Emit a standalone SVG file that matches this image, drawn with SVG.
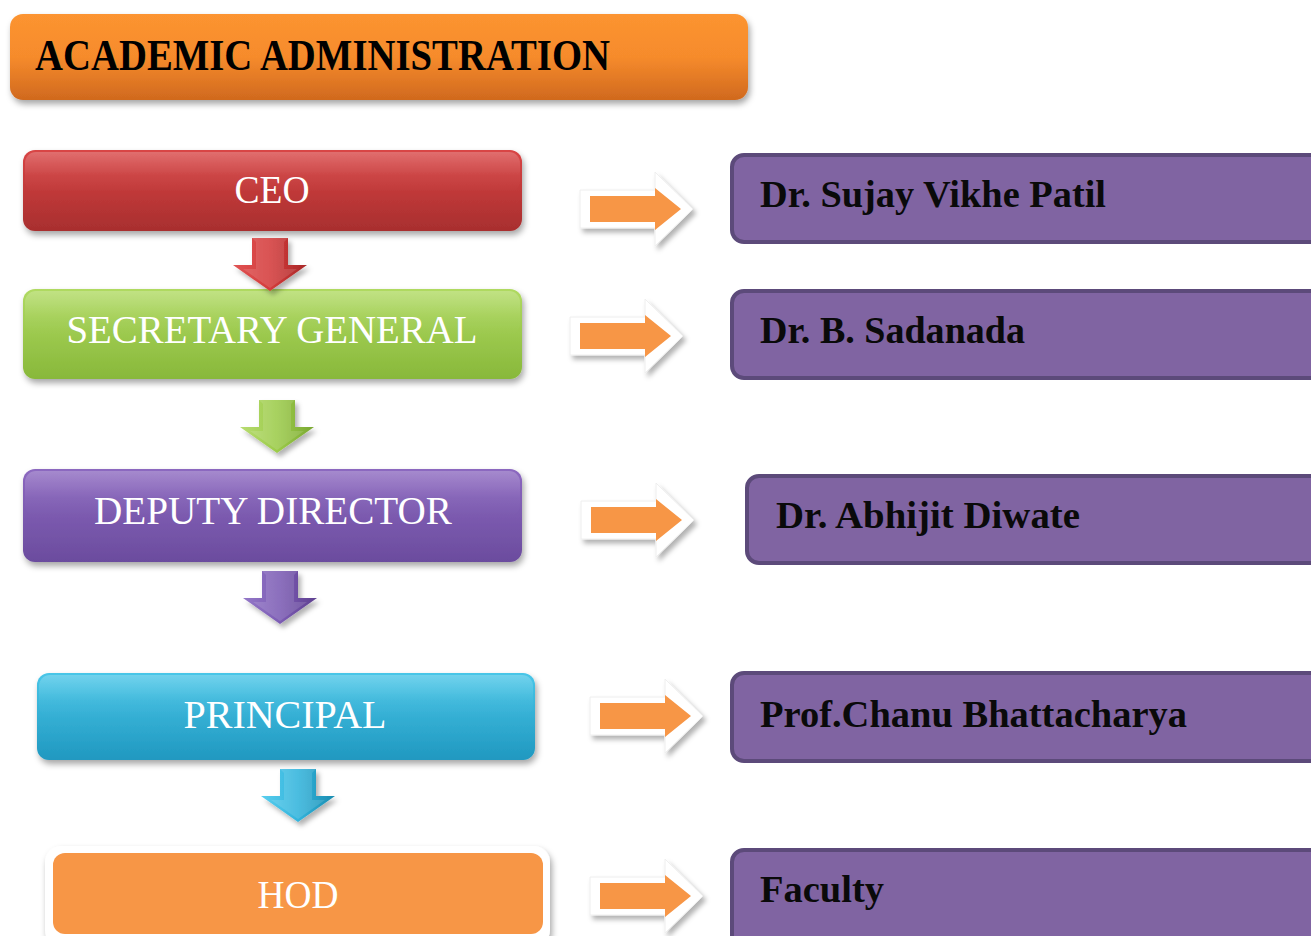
<svg xmlns="http://www.w3.org/2000/svg" width="1311" height="936" viewBox="0 0 1311 936">
<defs>
<style>
.lbl{font-family:"Liberation Serif","DejaVu Serif",serif;font-size:41px;fill:#ffffff;text-anchor:middle}
.name{font-family:"Liberation Serif","DejaVu Serif",serif;font-size:37px;font-weight:bold;fill:#0a0a0a}
.pbox{fill:#8064A2;stroke:#5C4A7A;stroke-width:4}
</style>
<filter id="sh" x="-10%" y="-20%" width="120%" height="150%"><feDropShadow dx="2" dy="4" stdDeviation="3" flood-color="#000" flood-opacity="0.35"/></filter>
<filter id="sh2" x="-20%" y="-20%" width="150%" height="150%"><feDropShadow dx="3" dy="4" stdDeviation="2.5" flood-color="#000" flood-opacity="0.3"/></filter>
<linearGradient id="gT" x1="0" y1="0" x2="0" y2="1"><stop offset="0" stop-color="#FC9430"/><stop offset="0.5" stop-color="#F68B2C"/><stop offset="1" stop-color="#D0691E"/></linearGradient>
<linearGradient id="gR" x1="0" y1="0" x2="0" y2="1"><stop offset="0" stop-color="#D94545"/><stop offset="1" stop-color="#A82E2E"/></linearGradient>
<linearGradient id="gG" x1="0" y1="0" x2="0" y2="1"><stop offset="0" stop-color="#B0DA62"/><stop offset="1" stop-color="#88B83A"/></linearGradient>
<linearGradient id="gP" x1="0" y1="0" x2="0" y2="1"><stop offset="0" stop-color="#8C68C0"/><stop offset="1" stop-color="#6B4C9E"/></linearGradient>
<linearGradient id="gC" x1="0" y1="0" x2="0" y2="1"><stop offset="0" stop-color="#48C6E8"/><stop offset="1" stop-color="#2098C0"/></linearGradient>
<linearGradient id="gloss" x1="0" y1="0" x2="0" y2="1"><stop offset="0" stop-color="#fff" stop-opacity="0.22"/><stop offset="0.6" stop-color="#fff" stop-opacity="0.04"/><stop offset="1" stop-color="#fff" stop-opacity="0"/></linearGradient>
<linearGradient id="aR" x1="0" y1="0" x2="1" y2="0"><stop offset="0" stop-color="#E05454"/><stop offset="0.5" stop-color="#D43C3C"/><stop offset="1" stop-color="#A82828"/></linearGradient>
<linearGradient id="aG" x1="0" y1="0" x2="1" y2="0"><stop offset="0" stop-color="#B8DC72"/><stop offset="0.5" stop-color="#9CCB4A"/><stop offset="1" stop-color="#7AA832"/></linearGradient>
<linearGradient id="aP" x1="0" y1="0" x2="1" y2="0"><stop offset="0" stop-color="#9478C8"/><stop offset="0.5" stop-color="#7C5CB4"/><stop offset="1" stop-color="#5E4090"/></linearGradient>
<linearGradient id="aC" x1="0" y1="0" x2="1" y2="0"><stop offset="0" stop-color="#5ACEEE"/><stop offset="0.5" stop-color="#33B4DC"/><stop offset="1" stop-color="#1A8CB0"/></linearGradient>
<g id="rarrow">
<path d="M0,18 H75 V0 L113,37 L75,74 V56 H0 Z" fill="#ffffff" stroke="#eeeeee" stroke-width="1" filter="url(#sh2)"/>
<path d="M10,24 H75 V16 L101,37 L75,58 V50 H10 Z" fill="#F79646"/>
</g>
<path id="darrow" d="M-18,0 H18 V27 H37 L0,53 L-37,27 H-18 Z"/>
<path id="dhi" d="M-18,0 H18 L14,4 V31 H27 L0,50 L-27,31 H-14 V4 Z" fill="#fff" fill-opacity="0.12"/>
</defs>

<g id="title">
<rect x="10" y="14" width="738" height="86" rx="13" fill="url(#gT)" filter="url(#sh)"/>
<text x="35" y="70" font-family="'Liberation Serif','DejaVu Serif',serif" font-size="45" font-weight="bold" fill="#000" textLength="575" lengthAdjust="spacingAndGlyphs">ACADEMIC ADMINISTRATION</text>
</g>

<g id="ceo">
<rect x="23" y="150" width="499" height="81" rx="12" fill="url(#gR)" filter="url(#sh)"/>
<rect x="25" y="152" width="495" height="40" rx="11" fill="url(#gloss)"/>
<text class="lbl" x="272" y="203" textLength="75" lengthAdjust="spacingAndGlyphs">CEO</text>
</g>

<g id="secretary">
<rect x="23" y="289" width="499" height="90" rx="12" fill="url(#gG)" filter="url(#sh)"/>
<rect x="25" y="291" width="495" height="44" rx="11" fill="url(#gloss)"/>
<text class="lbl" x="272" y="343" textLength="411" lengthAdjust="spacingAndGlyphs">SECRETARY GENERAL</text>
</g>

<g id="deputy">
<rect x="23" y="469" width="499" height="93" rx="12" fill="url(#gP)" filter="url(#sh)"/>
<rect x="25" y="471" width="495" height="45" rx="11" fill="url(#gloss)"/>
<text class="lbl" x="273" y="524" textLength="358" lengthAdjust="spacingAndGlyphs">DEPUTY DIRECTOR</text>
</g>

<g id="principal">
<rect x="37" y="673" width="498" height="87" rx="12" fill="url(#gC)" filter="url(#sh)"/>
<rect x="39" y="675" width="494" height="42" rx="11" fill="url(#gloss)"/>
<text class="lbl" x="285" y="728" textLength="203" lengthAdjust="spacingAndGlyphs">PRINCIPAL</text>
</g>

<g id="hod">
<rect x="45" y="846" width="505" height="100" rx="16" fill="#ffffff" filter="url(#sh)"/>
<rect x="53" y="853" width="490" height="81" rx="12" fill="#F79646"/>
<text class="lbl" x="298" y="908" textLength="81" lengthAdjust="spacingAndGlyphs">HOD</text>
</g>

<g id="person-ceo">
<rect class="pbox" x="732" y="155" width="600" height="87" rx="12"/>
<text class="name" x="760" y="207" textLength="346" lengthAdjust="spacingAndGlyphs">Dr. Sujay Vikhe Patil</text>
</g>
<g id="person-secretary">
<rect class="pbox" x="732" y="291" width="600" height="87" rx="12"/>
<text class="name" x="760" y="343" textLength="265" lengthAdjust="spacingAndGlyphs">Dr. B. Sadanada</text>
</g>
<g id="person-deputy">
<rect class="pbox" x="747" y="476" width="600" height="87" rx="12"/>
<text class="name" x="776" y="528" textLength="304" lengthAdjust="spacingAndGlyphs">Dr. Abhijit Diwate</text>
</g>
<g id="person-principal">
<rect class="pbox" x="732" y="673" width="600" height="88" rx="12"/>
<text class="name" x="760" y="727" textLength="427" lengthAdjust="spacingAndGlyphs">Prof.Chanu Bhattacharya</text>
</g>
<g id="person-hod">
<rect class="pbox" x="732" y="850" width="600" height="100" rx="12"/>
<text class="name" x="760" y="902" textLength="124" lengthAdjust="spacingAndGlyphs">Faculty</text>
</g>

<g id="connectors">
<g transform="translate(270,238)" filter="url(#sh2)"><use href="#darrow" fill="url(#aR)"/><use href="#dhi"/></g>
<g transform="translate(277,400)" filter="url(#sh2)"><use href="#darrow" fill="url(#aG)"/><use href="#dhi"/></g>
<g transform="translate(280,571)" filter="url(#sh2)"><use href="#darrow" fill="url(#aP)"/><use href="#dhi"/></g>
<g transform="translate(298,769)" filter="url(#sh2)"><use href="#darrow" fill="url(#aC)"/><use href="#dhi"/></g>
<use href="#rarrow" transform="translate(580,172)"/>
<use href="#rarrow" transform="translate(570,299)"/>
<use href="#rarrow" transform="translate(581,483)"/>
<use href="#rarrow" transform="translate(590,679)"/>
<use href="#rarrow" transform="translate(590,859)"/>
</g>
</svg>
